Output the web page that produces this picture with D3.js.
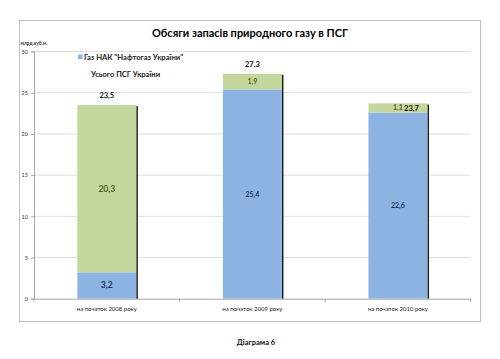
<!DOCTYPE html>
<html><head><meta charset="utf-8">
<script src="https://cdn.jsdelivr.net/npm/d3@7"></script>
<style>body{margin:0;background:#fff}svg{display:block}</style>
</head><body><svg id="c" width="500" height="359"></svg>
<script>
const categories = ["на початок 2008 року", "на початок 2009 року", "на початок 2010 року"];
const naftogaz = [3.2, 25.4, 22.6];
const other = [20.3, 1.9, 1.1];
const totals = [23.5, 27.3, 23.7];
const yTicks = [0, 5, 10, 15, 20, 25, 30];
const seriesNames = ["Газ НАК \"Нафтогаз України\"", "Усього ПСГ України"];
const fmt = v => String(v.toFixed(1)).replace(".", ",");

const svg = d3.select("#c");
const F = "Lato, 'Open Sans', sans-serif";

// outer frame
svg.append("rect").attr("x", 19.5).attr("y", 20.5).attr("width", 461).attr("height", 301)
  .attr("fill", "#fff").attr("stroke", "#bfbfbf").attr("stroke-width", 1);

const plot = {l: 34, r: 470.7, t: 51.5, b: 298.7};
const x = d3.scaleBand().domain(categories).range([plot.l, plot.r]).padding(0);
const y = d3.scaleLinear().domain([0, 30]).range([plot.b, plot.t]);
const barW = x.bandwidth() * 0.405;

// gridlines
svg.append("g").selectAll("line").data(yTicks.filter(d => d > 0)).join("line")
  .attr("x1", plot.l).attr("x2", plot.r).attr("y1", d => y(d)).attr("y2", d => y(d))
  .attr("stroke", "#dedede").attr("stroke-width", 1);

// y axis
const ya = svg.append("g").attr("transform", `translate(${plot.l},0)`)
  .call(d3.axisLeft(y).tickValues(yTicks).tickSize(3).tickPadding(3).tickFormat(d => d));
ya.select(".domain").attr("stroke", "#a6a6a6");
ya.selectAll(".tick line").attr("stroke", "#a6a6a6");
ya.selectAll("text").attr("font-family", F).attr("font-size", 5.5).attr("fill", "#333");

// x axis
const xa = svg.append("g").attr("transform", `translate(0,${plot.b})`)
  .call(d3.axisBottom(x).tickSize(0).tickPadding(8));
xa.select(".domain").attr("stroke", "#a6a6a6");
xa.selectAll("text").attr("font-family", F).attr("font-size", 6).attr("fill", "#222");
svg.append("g").selectAll("line").data(d3.range(categories.length + 1)).join("line")
  .attr("x1", i => plot.l + i * x.step()).attr("x2", i => plot.l + i * x.step())
  .attr("y1", plot.b).attr("y2", plot.b + 3).attr("stroke", "#a6a6a6");

// bars
const bars = svg.append("g");
categories.forEach((c, i) => {
  const x0 = x(c) + (x.bandwidth() - barW) / 2;
  const top = y(naftogaz[i] + other[i]);
  bars.append("rect").attr("x", x0 + barW).attr("y", top + 1).attr("width", 1.6)
    .attr("height", plot.b - top - 1).attr("fill", "#1a1a1a");
  bars.append("rect").attr("x", x0).attr("y", y(naftogaz[i])).attr("width", barW)
    .attr("height", plot.b - y(naftogaz[i])).attr("fill", "#8db3e2");
  bars.append("rect").attr("x", x0).attr("y", top).attr("width", barW)
    .attr("height", y(naftogaz[i]) - top).attr("fill", "#c3d69b");
});

// labels
const lab = svg.append("g").attr("font-family", F).attr("font-weight", "bold").attr("text-anchor", "middle");
categories.forEach((c, i) => {
  const cx = x(c) + x.bandwidth() / 2;
  lab.append("text").attr("x", cx).attr("y", (plot.b + y(naftogaz[i])) / 2).attr("dy", "0.35em")
    .attr("font-size", i === 0 ? 8.5 : 7).attr("fill", "#17375e").text(fmt(naftogaz[i]));
  const gm = (y(naftogaz[i]) + y(naftogaz[i] + other[i])) / 2;
  lab.append("text").attr("x", cx).attr("y", gm).attr("dy", "0.35em")
    .attr("font-size", i === 0 ? 8.5 : 7).attr("fill", "#4f6228").text(fmt(other[i]));
});
// total labels
const totPos = [
  {dx: 0, y: y(totals[0]) - 10},
  {dx: 0, y: y(totals[1]) - 9},
  {dx: 13.6, y: (y(naftogaz[2]) + y(totals[2])) / 2}
];
categories.forEach((c, i) => {
  const cx = x(c) + x.bandwidth() / 2 + totPos[i].dx;
  lab.append("text").attr("x", cx).attr("y", totPos[i].y).attr("dy", "0.35em")
    .attr("font-size", 7.5).attr("fill", "#111").text(fmt(totals[i]));
});

// legend
const lg = svg.append("g").attr("font-family", F).attr("font-weight", "bold").attr("font-size", 7.6).attr("fill", "#222");
lg.append("rect").attr("x", 78).attr("y", 54.5).attr("width", 4.5).attr("height", 4.5).attr("fill", "#8db3e2");
lg.append("text").attr("x", 84).attr("y", 59.5).text(seriesNames[0]);
lg.append("text").attr("x", 91).attr("y", 76.5).text(seriesNames[1]);

// title
svg.append("text").attr("x", 250).attr("y", 37).attr("text-anchor", "middle")
  .attr("font-family", F).attr("font-weight", "bold").attr("font-size", 11).attr("fill", "#000")
  .text("Обсяги запасів природного газу в ПСГ");
// unit
svg.append("text").attr("x", 20.5).attr("y", 45).attr("font-family", F).attr("font-weight", "bold")
  .attr("font-size", 4.8).attr("fill", "#333").text("млрд.куб.м.");
// caption
svg.append("text").attr("x", 256).attr("y", 345).attr("text-anchor", "middle")
  .attr("font-family", F).attr("font-weight", "bold").attr("font-size", 7.5).attr("fill", "#111")
  .text("Діаграма 6");
</script></body></html>
